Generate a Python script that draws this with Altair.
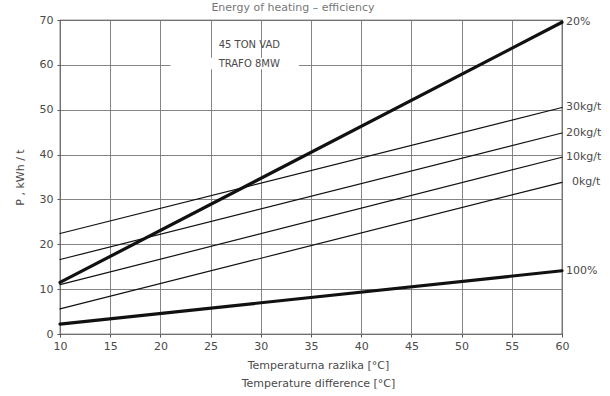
import altair as alt
import pandas as pd

# ---- data ----
series_names = ["20%", "30kg/t", "20kg/t", "10kg/t", "0kg/t", "100%"]
x_start = [10, 10, 10, 10, 10, 10]
x_end = [60, 60, 60, 60, 60, 60]
y_start = [11.5, 22.4, 16.6, 11.0, 5.6, 2.2]
y_end = [69.5, 50.5, 44.8, 39.4, 33.8, 14.1]
thick = [True, False, False, False, False, True]

x_ticks = [10, 15, 20, 25, 30, 35, 40, 45, 50, 55, 60]
y_ticks = [0, 10, 20, 30, 40, 50, 60, 70]

note_lines = ["45 TON  VAD", "TRAFO  8MW"]
note_x = [25.8, 25.8]
note_y = [64.5, 60.3]

title_text = "Energy of heating  –  efficiency"
x_title = ["Temperaturna razlika [°C]", "Temperature difference [°C]"]
y_title = "P , kWh / t"

FONT = "DejaVu Sans"
TXT = "#4a4a4a"

rows = []
for n, xs_, xe, ys_, ye, t in zip(series_names, x_start, x_end, y_start, y_end, thick):
    rows.append({"series": n, "x": xs_, "y": ys_, "w": 3.2 if t else 1.2})
    rows.append({"series": n, "x": xe, "y": ye, "w": 3.2 if t else 1.2})
lines_df = pd.DataFrame(rows)

labels_df = pd.DataFrame({"series": series_names, "x": x_end, "y": y_end})
notes_df = pd.DataFrame({"t": note_lines, "x": note_x, "y": note_y})

xs = alt.Scale(domain=[10, 60], nice=False, zero=False)
ys = alt.Scale(domain=[0, 70], nice=False)

base_x = alt.X("x:Q", scale=xs,
               axis=alt.Axis(values=x_ticks, title=x_title, grid=True, tickSize=3,
                             labelPadding=3, titlePadding=8, labelFlush=False,
                             titleLineHeight=18, titleX=258))
base_y = alt.Y("y:Q", scale=ys,
               axis=alt.Axis(values=y_ticks, title=y_title, grid=True, tickSize=3,
                             labelPadding=4, titlePadding=14, labelFlush=False))

# white patch behind note (breaks the 60 gridline like the original)
patch_df = pd.DataFrame({"x": [21.0], "x2": [33.8], "y": [59.0], "y2": [61.6]})
patch = alt.Chart(patch_df).mark_rect(color="white").encode(
    x=alt.X("x:Q", scale=xs), x2="x2:Q", y=alt.Y("y:Q", scale=ys), y2="y2:Q")

lines = alt.Chart(lines_df).mark_line(color="#111", strokeCap="round").encode(
    x=base_x, y=base_y,
    detail="series:N",
    strokeWidth=alt.StrokeWidth("w:Q", scale=None, legend=None),
)

labels_main = alt.Chart(labels_df).transform_filter(
    alt.datum.series != "0kg/t").mark_text(
    align="left", baseline="middle", font=FONT, fontSize=11, color=TXT, dx=4).encode(
    x=alt.X("x:Q", scale=xs), y=alt.Y("y:Q", scale=ys), text="series:N")

labels_zero = alt.Chart(labels_df).transform_filter(
    alt.datum.series == "0kg/t").mark_text(
    align="left", baseline="middle", font=FONT, fontSize=11, color=TXT, dx=10).encode(
    x=alt.X("x:Q", scale=xs), y=alt.Y("y:Q", scale=ys), text="series:N")

notes = alt.Chart(notes_df).mark_text(align="left", baseline="middle", font=FONT,
                                      fontSize=10, color=TXT).encode(
    x=alt.X("x:Q", scale=xs), y=alt.Y("y:Q", scale=ys), text="t:N")

title = alt.Chart(pd.DataFrame({"t": [title_text]})).mark_text(
    align="center", baseline="alphabetic", font=FONT, fontSize=11, color="#777").encode(
    x=alt.value(233), y=alt.value(-9), text="t:N")

chart = alt.layer(patch, lines, labels_main, labels_zero, notes, title).properties(
    width=502, height=314,
    autosize=alt.AutoSizeParams(type="none"),
    padding={"left": 60, "top": 20, "right": 48, "bottom": 62},
).configure_view(stroke="#333", strokeWidth=1.2).configure_axis(
    gridColor="#777", gridWidth=0.9, gridOpacity=1,
    domain=False, tickColor="#555",
    labelFont=FONT, labelFontSize=11, labelColor=TXT,
    titleFont=FONT, titleFontSize=11, titleColor=TXT, titleFontWeight="normal",
)

chart.save("out.html", embed_options={"renderer": "svg", "actions": False})
